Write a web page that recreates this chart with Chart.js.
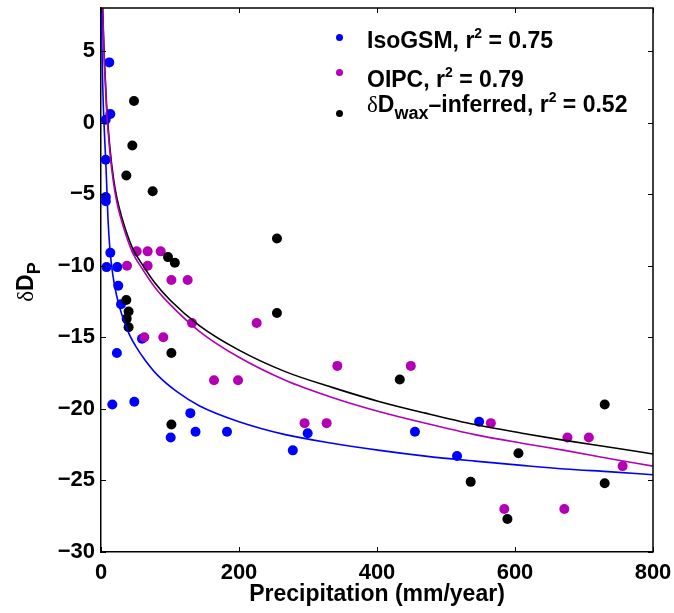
<!DOCTYPE html>
<html>
<head>
<meta charset="utf-8">
<script src="https://cdn.jsdelivr.net/npm/chart.js@4/dist/chart.umd.min.js"></script>
<style>
  html, body { margin: 0; padding: 0; background: #fff; }
  #wrap { position: relative; width: 674px; height: 613px; }
  canvas { position: absolute; left: 0; top: 0; }
  .txt { position: absolute; font-family: "Liberation Sans", Arial, sans-serif; font-weight: bold; color: #000; white-space: nowrap; }
  .leg { font-size: 23px; line-height: 22px; }
  .sup { font-size: 14px; position: relative; top: -10px; }
  .sub { font-size: 18px; position: relative; top: 7px; }
  .del { font-family: "Liberation Serif", "DejaVu Serif", serif; font-weight: normal; }
  .dot { position: absolute; width: 7px; height: 7px; border-radius: 50%; }
</style>
</head>
<body>
<div id="wrap">
  <canvas id="c" width="674" height="613"></canvas>
  <span class="dot" style="left:336px;top:34px;background:#0000ff"></span>
  <span class="dot" style="left:336px;top:69px;background:#b400b4"></span>
  <span class="dot" style="left:336px;top:110px;background:#000"></span>
  <div class="txt leg" style="left:367px;top:29px">IsoGSM, r<span class="sup">2</span> = 0.75</div>
  <div class="txt leg" style="left:367px;top:68px">OIPC, r<span class="sup">2</span> = 0.79</div>
  <div class="txt leg" style="left:367px;top:93px"><span class="del">δ</span>D<span class="sub">wax</span>–inferred, r<span class="sup">2</span> = 0.52</div>
  <div class="txt" style="left:-15px;top:269px;width:80px;height:26px;line-height:26px;font-size:23px;text-align:center;transform:rotate(-90deg)"><span class="del">δ</span>D<span class="sub">P</span></div>
</div>
<script>
// ---- tick labels ----
const xTicks = [0, 200, 400, 600, 800];
const yTicks = [-30, -25, -20, -15, -10, -5, 0, 5];

// ---- IsoGSM points ----
const isoPrecip = [12, 13.5, 6.8, 6.8, 7, 7, 13.5, 8, 23.6, 25, 29, 59.4, 23, 16.4, 48.3, 129.5, 101, 137, 182.6, 278, 299.5, 455, 516, 548];
const isoDD     = [4.2, 0.6, 0.2, -2.6, -5.2, -5.5, -9.1, -10.1, -10.1, -11.4, -12.7, -15.1, -16.1, -19.7, -19.5, -20.3, -22.0, -21.6, -21.6, -22.9, -21.7, -21.6, -23.3, -20.9];

// ---- OIPC points ----
const oipcPrecip = [51.7, 67.6, 86.5, 37.7, 67.6, 102, 125.6, 131.9, 62.8, 90.3, 163.8, 198.6, 225.6, 342.5, 449, 295, 327, 565, 676, 707, 756, 584.5, 671.5];
const oipcDD     = [-9, -9, -9, -10, -10, -11, -11, -14, -15, -15, -18, -18, -14, -17, -17, -21, -21, -21, -22, -22, -24, -27, -27];

// ---- dDwax-inferred points ----
const waxPrecip = [47.8, 45.4, 36.7, 74.9, 255, 97.1, 107, 36.7, 40, 37.2, 40, 102, 255, 102, 433, 535.8, 605, 589, 730, 730];
const waxDD     = [1.5, -1.6, -3.7, -4.8, -8.1, -9.4, -9.8, -12.4, -13.2, -13.7, -14.3, -16.1, -13.3, -21.1, -17.95, -25.1, -23.1, -27.7, -19.7, -25.2];

// ---- fitted curves ----
const isoFitX = [0.7, 1.4, 2.5, 4.3, 6, 8, 10, 13, 17, 22.7, 30, 41, 50, 64, 83, 110, 143, 200, 267, 335, 404, 470, 542, 610, 672, 740, 800];
const isoFitY = [8, 5.1, 2.6, 0, -1.8, -4.0, -6.6, -8.9, -10.6, -12.1, -13.4, -14.8, -15.6, -16.6, -17.7, -18.8, -19.8, -20.9, -21.8, -22.4, -22.9, -23.3, -23.65, -23.95, -24.2, -24.4, -24.6];
const oipcFitX = [2.3, 3.4, 5, 8, 13, 17.8, 22.7, 30, 45, 61, 78, 100, 143, 200, 267, 335, 404, 470, 542, 610, 672, 740, 800];
const oipcFitY = [8, 6.2, 4.0, 1.0, -2.1, -4.1, -5.5, -6.9, -9.0, -10.3, -11.5, -12.7, -14.6, -16.4, -18.0, -19.2, -20.2, -21.0, -21.8, -22.4, -22.9, -23.5, -24.0];
const waxFitX = [2.5, 3.4, 5, 8, 13, 17.8, 22.7, 30, 45, 61, 78, 100, 143, 200, 267, 335, 404, 470, 542, 610, 672, 740, 800];
const waxFitY = [8, 6.5, 4.3, 1.3, -1.8, -3.8, -5.2, -6.6, -8.7, -10, -11.2, -12.4, -14.2, -15.9, -17.4, -18.5, -19.5, -20.3, -21.1, -21.7, -22.2, -22.7, -23.15];

const BLUE = '#0000ff', MAG = '#b400b4', BLK = '#000000';
const pts = (xs, ys) => xs.map((x, i) => ({ x: x, y: ys[i] }));

function lineDs(xs, ys, color, order) {
  return { data: pts(xs, ys), showLine: true, borderColor: color, borderWidth: 1.6, pointRadius: 0,
           cubicInterpolationMode: 'monotone', fill: false, order: order };
}
function dotDs(xs, ys, color, order) {
  return { data: pts(xs, ys), showLine: false, backgroundColor: color, borderColor: color, borderWidth: 0,
           pointRadius: 5, pointHoverRadius: 5, order: order };
}

const frame = {
  id: 'frame',
  afterDraw(chart) {
    const ctx = chart.ctx, a = chart.chartArea;
    const xs = chart.scales.x, ys = chart.scales.y;
    ctx.save();
    ctx.strokeStyle = '#000';
    ctx.lineWidth = 1.5;
    ctx.beginPath();
    ctx.moveTo(a.left, a.top); ctx.lineTo(a.right, a.top); ctx.lineTo(a.right, a.bottom);
    ctx.stroke();
    ctx.lineWidth = 1;
    ctx.beginPath();
    xTicks.forEach(v => {
      const p = Math.round(xs.getPixelForValue(v)) + 0.5;
      ctx.moveTo(p, a.bottom); ctx.lineTo(p, a.bottom - 5);
      ctx.moveTo(p, a.top); ctx.lineTo(p, a.top + 5);
    });
    yTicks.forEach(v => {
      const p = Math.round(ys.getPixelForValue(v)) + 0.5;
      ctx.moveTo(a.left, p); ctx.lineTo(a.left + 5, p);
      ctx.moveTo(a.right, p); ctx.lineTo(a.right - 5, p);
    });
    ctx.stroke();
    ctx.restore();
  }
};

const font = { family: '"Liberation Sans", Arial, sans-serif', size: 22, weight: 'bold' };
const zeroPad = s => { s.paddingTop = 0; s.paddingBottom = 0; s.paddingLeft = 0; s.paddingRight = 0; };

new Chart(document.getElementById('c'), {
  type: 'scatter',
  data: {
    datasets: [
      lineDs(isoFitX, isoFitY, BLUE, 0),
      lineDs(oipcFitX, oipcFitY, MAG, 1),
      lineDs(waxFitX, waxFitY, BLK, 2),
      dotDs(waxPrecip, waxDD, BLK, 3),
      dotDs(oipcPrecip, oipcDD, MAG, 4),
      dotDs(isoPrecip, isoDD, BLUE, 5)
    ]
  },
  options: {
    responsive: false,
    animation: false,
    devicePixelRatio: 1,
    layout: { padding: { top: 8, right: 21, left: 0, bottom: 0 } },
    plugins: { legend: { display: false }, tooltip: { enabled: false } },
    scales: {
      x: {
        type: 'linear', min: 0, max: 800,
        afterBuildTicks: s => { s.ticks = xTicks.map(v => ({ value: v })); },
        afterFit: s => { s.height = 61; zeroPad(s); },
        grid: { display: false, drawTicks: false },
        border: { display: true, color: '#000', width: 1.5 },
        ticks: { color: '#000', font: font, padding: 8, maxRotation: 0, autoSkip: false },
        title: { display: true, text: 'Precipitation (mm/year)', color: '#000',
                 font: { family: font.family, size: 23, weight: 'bold' }, padding: { top: 0, bottom: 5 } }
      },
      y: {
        type: 'linear', min: -30, max: 8,
        afterBuildTicks: s => { s.ticks = yTicks.map(v => ({ value: v })); },
        afterFit: s => { s.width = 101; zeroPad(s); },
        grid: { display: false, drawTicks: false },
        border: { display: true, color: '#000', width: 1.5 },
        ticks: { color: '#000', font: font, padding: 6, autoSkip: false,
                 callback: v => String(v).replace('-', '\u2212') }
      }
    }
  },
  plugins: [frame]
});
</script>
</body>
</html>
